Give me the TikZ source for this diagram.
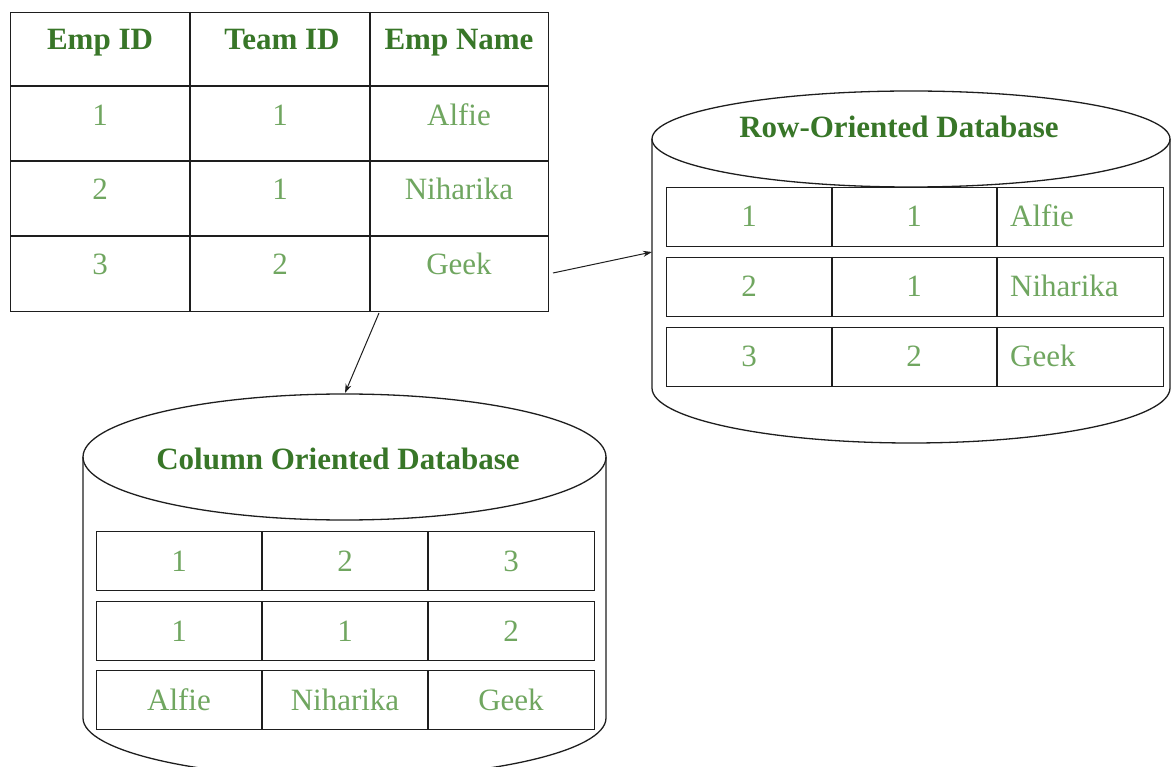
\documentclass[tikz,border=0pt]{standalone}
\usepackage{fontspec}
\setmainfont{Liberation Serif}
\usetikzlibrary{arrows.meta}
\definecolor{headgreen}{RGB}{56,118,40}
\definecolor{cellgreen}{RGB}{112,166,96}
\definecolor{edge}{RGB}{30,30,30}

\begin{document}
\begin{tikzpicture}[x=1pt,y=-1pt,
  line/.style={draw=edge, line width=1.3pt},
  frame/.style={draw=edge, line width=1.3pt, anchor=north west, inner sep=0pt},
  head/.style={font=\fontsize{31}{37}\selectfont\bfseries, text=headgreen, anchor=base, inner sep=0pt},
  val/.style={font=\fontsize{31}{37}\selectfont, text=cellgreen, anchor=base, inner sep=0pt},
  vall/.style={val, anchor=base west},
  link/.style={draw=edge, line width=1pt, -{Stealth[length=9pt,width=6pt]}},
]
\useasboundingbox (0,0) rectangle (1171,767);

% ---------- source table ----------
\node[frame, minimum width=538pt, minimum height=299pt] (emp) at (10,12) {};
\draw[line] (190,12) -- (190,311) (370,12) -- (370,311);
\draw[line] (10,86) -- (548,86) (10,161) -- (548,161) (10,236) -- (548,236);

\node[head] (h1) at (100,50) {Emp ID};
\node[head] (h2) at (282,50) {Team ID};
\node[head] (h3) at (459,50) {Emp Name};

\node[val] (t11) at (100,126) {1};
\node[val] (t12) at (280,126) {1};
\node[val] (t13) at (459,126) {Alfie};
\node[val] (t21) at (100,200) {2};
\node[val] (t22) at (280,200) {1};
\node[val] (t23) at (459,200) {Niharika};
\node[val] (t31) at (100,275) {3};
\node[val] (t32) at (280,275) {2};
\node[val] (t33) at (459,275) {Geek};

% ---------- row-oriented store ----------
\draw[line] (911,139) ellipse [x radius=259pt, y radius=48pt];
\draw[line] (652,139) -- (652,388)
  arc [start angle=180, end angle=360, x radius=259pt, y radius=55pt]
  -- (1170,139);
\node[head] (rowtitle) at (899,138) {Row-Oriented Database};

\foreach \top/\n in {187/r1, 257/r2, 327/r3} {
  \node[frame, minimum width=497pt, minimum height=59pt] (\n) at (666,\top) {};
  \draw[line] (832,\top) -- ++(0,59) (997,\top) -- ++(0,59);
}
\node[val] (r11) at (749,227) {1};
\node[val] (r12) at (914,227) {1};
\node[vall] (r13) at (1010,227) {Alfie};
\node[val] (r21) at (749,297) {2};
\node[val] (r22) at (914,297) {1};
\node[vall] (r23) at (1010,297) {Niharika};
\node[val] (r31) at (749,367) {3};
\node[val] (r32) at (914,367) {2};
\node[vall] (r33) at (1010,367) {Geek};

% ---------- column-oriented store ----------
\draw[line] (344.5,457) ellipse [x radius=261.5pt, y radius=63pt];
\draw[line] (83,457) -- (83,718)
  arc [start angle=180, end angle=360, x radius=261.5pt, y radius=60pt]
  -- (606,457);
\node[head] (coltitle) at (338,469) {Column Oriented Database};

\foreach \top/\n in {531/c1, 601/c2, 670/c3} {
  \node[frame, minimum width=498pt, minimum height=59pt] (\n) at (96,\top) {};
  \draw[line] (262,\top) -- ++(0,59) (428,\top) -- ++(0,59);
}
\node[val] (c11) at (179,571) {1};
\node[val] (c12) at (345,571) {2};
\node[val] (c13) at (511,571) {3};
\node[val] (c21) at (179,641) {1};
\node[val] (c22) at (345,641) {1};
\node[val] (c23) at (511,641) {2};
\node[val] (c31) at (179,710) {Alfie};
\node[val] (c32) at (345,710) {Niharika};
\node[val] (c33) at (511,710) {Geek};

% ---------- connectors ----------
\coordinate (toRowFrom) at (553,273);
\coordinate (rowIn) at (652,252);
\coordinate (toColFrom) at (379,313);
\coordinate (colIn) at (345,393);
\draw[link] (toRowFrom) -- (rowIn);
\draw[link] (toColFrom) -- (colIn);
\end{tikzpicture}
\end{document}
